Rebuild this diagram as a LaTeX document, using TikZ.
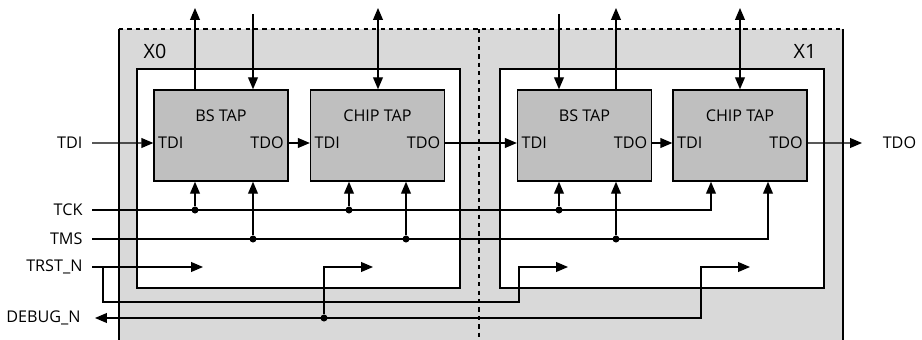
\documentclass[tikz,border=0pt]{standalone}
\usepackage{fontspec}
\setmainfont{Open Sans}
\usetikzlibrary{positioning,calc,arrows.meta}

\begin{document}
\begin{tikzpicture}[x=0.025cm, y=-0.025cm, line width=0.9pt,
  every node/.style={font=\fontsize{11.5}{13}\selectfont},
  tap/.style={draw, fill=black!25, minimum width=3.35cm, minimum height=2.28cm, inner sep=0pt},
  chipbox/.style={draw, fill=white},
  port/.style={inner sep=3pt},
  sig/.style={-{Triangle[length=8.5pt,width=7pt]}},
  dsig/.style={{Triangle[length=8.5pt,width=7pt]}-{Triangle[length=8.5pt,width=7pt]}},
  dot/.style={circle, fill, inner sep=0pt, minimum size=5pt}]
	\useasboundingbox (0,0) rectangle (922,340);
	% device outlines
	\fill[black!15] (119,29) rectangle (843,340);
	\draw (119,340) -- (119,29);
	\draw (843,29) -- (843,340);
	\draw[dashed] (119,29) -- (843,29);
	\draw[dashed] (479,29) -- (479,337);
	\draw[chipbox] (137,69) rectangle (460,288);
	\draw[chipbox] (500,69) rectangle (824,288);
	\node[font=\fontsize{14}{16}\selectfont] (x0) at (155,51) {X0};
	\node[font=\fontsize{14}{16}\selectfont] (x1) at (805,51) {X1};
	% TAP boxes
	\node[tap] (bs0) at (221,135.5) {};
	\node[tap] (chip0) at (377.5,135.5) {};
	\node[tap] (bs1) at (584.5,135.5) {};
	\node[tap] (chip1) at (740,135.5) {};
	\foreach \t/\n in {bs0/BS TAP, chip0/CHIP TAP, bs1/BS TAP, chip1/CHIP TAP} {
		\node (\t-name) at ($(\t.north)+(0,26)$) {\n};
		\node[port, anchor=west] (\t-tdi) at ($(\t.west)+(0,7.5)$) {TDI};
		\node[port, anchor=east] (\t-tdo) at ($(\t.east)+(0,7.5)$) {TDO};
	}
	% scan chain
	\coordinate (tdiin) at (92,143);
	\coordinate (tdoout) at (862,143);
	\node[left=3pt of tdiin] (tdilbl) {TDI};
	\node[right=11pt of tdoout] (tdolbl) {TDO};
	\draw[sig] (tdiin) -- (bs0-tdi.west);
	\draw[sig] (bs0-tdo.east) -- (chip0-tdi.west);
	\draw[sig] (chip0-tdo.east) -- (bs1-tdi.west);
	\draw[sig] (bs1-tdo.east) -- (chip1-tdi.west);
	\draw[sig] (chip1-tdo.east) -- (tdoout);
	% top pins
	\coordinate (bs0-out) at (195,8);
	\coordinate (bs0-in) at (253,14);
	\coordinate (chip0-io) at (378,8);
	\coordinate (bs1-in) at (559,14);
	\coordinate (bs1-out) at (616,8);
	\coordinate (chip1-io) at (740,8);
	\draw[sig] (bs0-out |- bs0.north) -- (bs0-out);
	\draw[sig] (bs0-in) -- (bs0-in |- bs0.north);
	\draw[dsig] (chip0-io) -- (chip0-io |- chip0.north);
	\draw[sig] (bs1-in) -- (bs1-in |- bs1.north);
	\draw[sig] (bs1-out |- bs1.north) -- (bs1-out);
	\draw[dsig] (chip1-io) -- (chip1-io |- chip1.north);
	% TCK and TMS
	\coordinate (tckin) at (92,210);
	\coordinate (tmsin) at (92,239);
	\node[left=3pt of tckin] (tcklbl) {TCK};
	\node[left=3pt of tmsin] (tmslbl) {TMS};
	\draw[sig] (tckin) -| ($(chip1.south)+(-29,0)$);
	\draw[sig] (tmsin) -| ($(chip1.south)+(28,0)$);
	\foreach \x/\b in {195/bs0, 349/chip0, 559/bs1} {
		\node[dot] (ck-\b) at (\x,210) {};
		\draw[sig] (ck-\b) -- (ck-\b |- \b.south);
	}
	\foreach \x/\b in {253/bs0, 406/chip0, 616/bs1} {
		\node[dot] (ms-\b) at (\x,239) {};
		\draw[sig] (ms-\b) -- (ms-\b |- \b.south);
	}
	% TRST_N and DEBUG_N
	\coordinate (trstin) at (92,267);
	\coordinate (trstbr) at (103,267);
	\coordinate (trst0) at (203,267);
	\coordinate (trst1) at (568,267);
	\node[left=3pt of trstin] (trstlbl) {TRST\_N};
	\draw[sig] (trstin) -- (trst0);
	\draw[sig] (trstbr) |- (519,302) |- (trst1);
	\coordinate (dbgout) at (95,318);
	\coordinate (dbg0) at (373,267);
	\coordinate (dbg1) at (750,267);
	\node[left=6.5pt of dbgout] (dbglbl) {DEBUG\_N};
	\draw[dsig] (dbgout) -| (701,267) -- (dbg1);
	\node[dot] (dbgbr) at (324,318) {};
	\draw[sig] (dbgbr) |- (dbg0);
\end{tikzpicture}
\end{document}
